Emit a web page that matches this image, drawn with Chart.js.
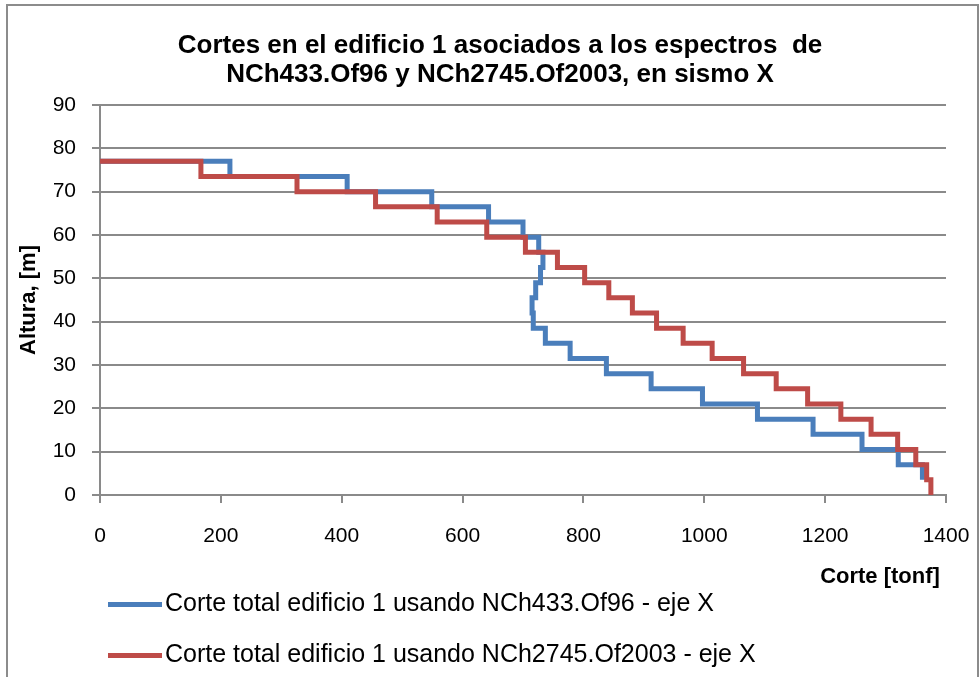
<!DOCTYPE html>
<html>
<head>
<meta charset="utf-8">
<script src="https://cdn.jsdelivr.net/npm/chart.js@4.4.1/dist/chart.umd.min.js"></script>
<style>
  body { margin: 0; background: #fff; overflow: hidden; }
  #marco { position: absolute; left: 6px; top: 4px; width: 969px; height: 700px; border: 2px solid #8c8c8c; }
  #grafico { position: absolute; left: 0; top: 0; }
  .leyenda { position: absolute; left: 108px; font: 25px "Liberation Sans", Arial, sans-serif; color: #000; white-space: nowrap; }
  .leyenda span.linea { display: inline-block; width: 54px; height: 5px; vertical-align: middle; margin-right: 3px; }
</style>
</head>
<body>
<div id="marco"></div>
<canvas id="grafico" width="980" height="677"></canvas>
<div id="leyenda"></div>
<script>
// alturas de cada nivel del edificio [m], de arriba hacia abajo
const alturas = [77, 73.5, 70, 66.5, 63, 59.5, 56, 52.5, 49, 45.5, 42, 38.5, 35, 31.5, 28, 24.5, 21, 17.5, 14, 10.5, 7, 3.5, 0];

// corte por piso [tonf] (piso superior primero)
const corteNCh433 = [215, 409, 549, 643, 700, 726, 733, 729, 721, 715, 717, 737, 778, 838, 912, 997, 1088, 1180, 1261, 1321, 1361];
const corteNCh2745 = [167, 326, 456, 558, 640, 704, 757, 802, 842, 881, 921, 965, 1013, 1065, 1119, 1171, 1226, 1276, 1320, 1350, 1368, 1375];

const etiquetas = ['Corte total edificio 1 usando NCh433.Of96 - eje X', 'Corte total edificio 1 usando NCh2745.Of2003 - eje X'];
const colores = ['#4a7ebb', '#be4b48'];

// arma la escalera: horizontal hasta el corte del piso y luego baja al nivel inferior
function escalones(cortes) {
  const pts = [{ x: 0, y: alturas[0] }];
  cortes.forEach((v, i) => {
    pts.push({ x: v, y: alturas[i] });
    pts.push({ x: v, y: alturas[i + 1] });
  });
  return pts;
}

const gris = '#8a8a8a';
const fuente = '"Liberation Sans", Arial, sans-serif';

const ctx = document.getElementById('grafico').getContext('2d');
const chart = new Chart(ctx, {
  type: 'scatter',
  data: {
    datasets: [
      { label: etiquetas[0], data: escalones(corteNCh433), borderColor: colores[0], order: 1 },
      { label: etiquetas[1], data: escalones(corteNCh2745), borderColor: colores[1], order: 0 }
    ].map(d => Object.assign(d, {
      showLine: true, pointRadius: 0, borderWidth: 5, tension: 0, clip: false,
      backgroundColor: d.borderColor
    }))
  },
  options: {
    responsive: false,
    animation: false,
    layout: { padding: { left: 54, right: 34, top: 0, bottom: 82 } },
    plugins: {
      legend: { display: false },
      tooltip: { enabled: false },
      title: {
        display: true,
        text: ['Cortes en el edificio 1 asociados a los espectros  de', 'NCh433.Of96 y NCh2745.Of2003, en sismo X'],
        color: '#000',
        font: { family: fuente, size: 26, weight: 'bold', lineHeight: '29px' },
        padding: { top: 31.5, bottom: 15.5 }
      }
    },
    scales: {
      x: {
        type: 'linear',
        min: 0, max: 1400,
        ticks: { stepSize: 200, color: '#000', font: { family: fuente, size: 21 }, padding: 21, maxRotation: 0,
                 callback: v => String(v) },
        grid: { drawOnChartArea: false, drawTicks: true, tickLength: 8, color: gris, lineWidth: 2 },
        border: { color: gris, width: 2 },
        title: {
          display: true, text: 'Corte [tonf] ', align: 'end', color: '#000',
          font: { family: fuente, size: 22, weight: 'bold' },
          padding: { top: 0, bottom: 5 }
        },
        afterFit: s => { s.height = 100; s.paddingLeft = 0; s.paddingRight = 0; }
      },
      y: {
        min: 0, max: 90,
        ticks: { stepSize: 10, color: '#000', font: { family: fuente, size: 21 }, padding: 16 },
        grid: { color: gris, lineWidth: 2, tickLength: 8 },
        border: { color: gris, width: 2 },
        title: {
          display: true, text: 'Altura, [m]', color: '#000',
          font: { family: fuente, size: 22, weight: 'bold' },
          padding: { top: -38.7, bottom: 0 }
        },
        afterFit: s => { s.width = 46; s.paddingTop = 0; s.paddingBottom = 0; }
      }
    }
  }
});

// leyenda en html, construida desde los datasets
const tops = [603, 654];
chart.data.datasets.forEach((d, i) => {
  const div = document.createElement('div');
  div.className = 'leyenda';
  div.style.top = (tops[i] - 15) + 'px';
  div.innerHTML = '<span class="linea" style="background:' + d.borderColor + '"></span>' + d.label;
  document.getElementById('leyenda').appendChild(div);
});
</script>
</body>
</html>
